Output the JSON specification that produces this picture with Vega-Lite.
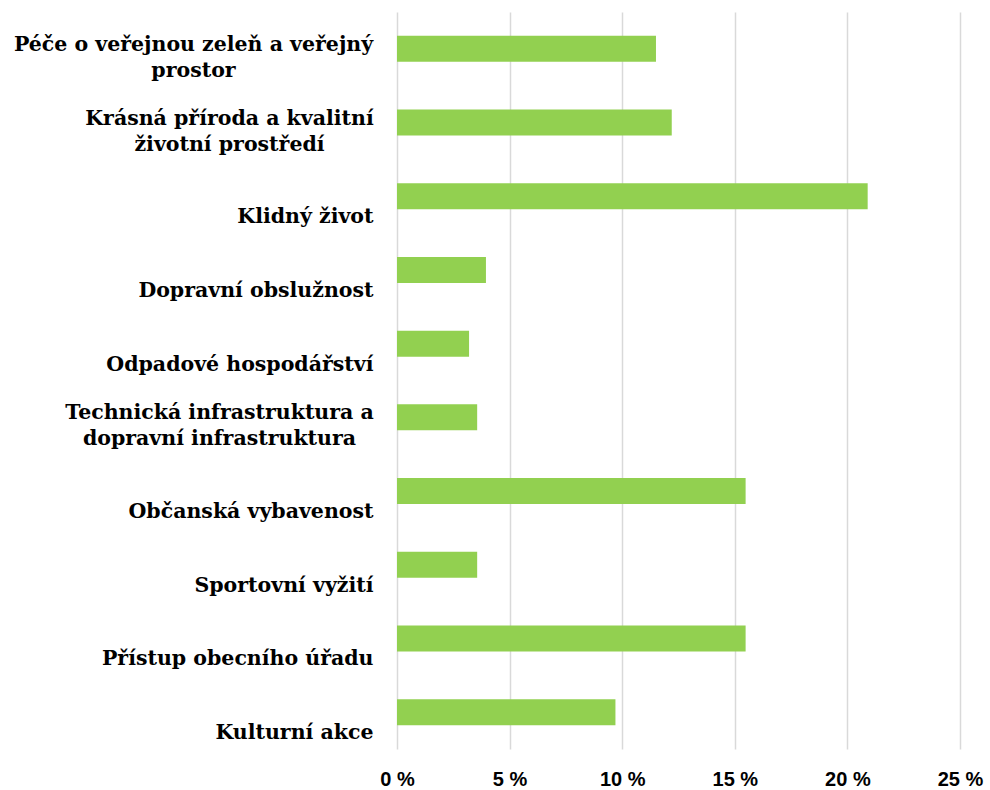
{
  "$schema": "https://vega.github.io/schema/vega-lite/v6.json",
  "width": 563,
  "height": 737,
  "autosize": {"type": "none"},
  "padding": {"left": 397, "top": 12, "right": 30, "bottom": 41},
  "background": "white",
  "data": {
    "values": [
      {"kategorie": "Péče o veřejnou zeleň a veřejný|prostor", "podil": 11.5},
      {"kategorie": "Krásná příroda a kvalitní|životní prostředí", "podil": 12.2},
      {"kategorie": "Klidný život ", "podil": 20.9},
      {"kategorie": "Dopravní obslužnost", "podil": 3.95},
      {"kategorie": "Odpadové hospodářství", "podil": 3.2},
      {"kategorie": "Technická infrastruktura a|dopravní infrastruktura", "podil": 3.56},
      {"kategorie": "Občanská vybavenost", "podil": 15.48},
      {"kategorie": "Sportovní vyžití", "podil": 3.56},
      {"kategorie": "Přístup obecního úřadu", "podil": 15.48},
      {"kategorie": "Kulturní akce", "podil": 9.7}
    ]
  },
  "mark": {"type": "bar", "color": "#92D050"},
  "encoding": {
    "y": {
      "field": "kategorie",
      "type": "nominal",
      "sort": null,
      "scale": {"paddingInner": 0.647, "paddingOuter": 0.3235},
      "axis": {
        "title": null,
        "domain": false,
        "ticks": false,
        "labelExpr": "split(datum.label, '|')",
        "labelFont": "DejaVu Serif",
        "labelFontWeight": "bold",
        "labelFontSize": 20.5,
        "labelColor": "#000000",
        "labelLineHeight": 26,
        "labelBaseline": "middle",
        "labelOffset": {"condition": {"test": "indexof(datum.value, '|') >= 0", "value": -4}, "value": 21},
        "labelAlign": {"condition": {"test": "indexof(datum.value, '|') >= 0", "value": "center"}, "value": "right"},
        "labelPadding": {
          "condition": [
            {"test": "indexof(datum.value, 'Péče') >= 0", "value": 204},
            {"test": "indexof(datum.value, 'Krásná') >= 0", "value": 168},
            {"test": "indexof(datum.value, 'Technická') >= 0", "value": 178}
          ],
          "value": 24
        },
        "labelLimit": 500
      }
    },
    "x": {
      "field": "podil",
      "type": "quantitative",
      "scale": {"domain": [0, 25], "nice": false},
      "axis": {
        "title": null,
        "values": [0, 5, 10, 15, 20, 25],
        "labelExpr": "datum.value + ' %'",
        "domain": false,
        "ticks": false,
        "grid": true,
        "gridColor": "#d9d9d9",
        "gridWidth": 1.5,
        "labelFont": "Liberation Sans",
        "labelFontWeight": "bold",
        "labelFontSize": 20,
        "labelColor": "#000000",
        "labelPadding": 20,
        "labelFlush": false
      }
    }
  },
  "config": {"view": {"stroke": null}}
}
